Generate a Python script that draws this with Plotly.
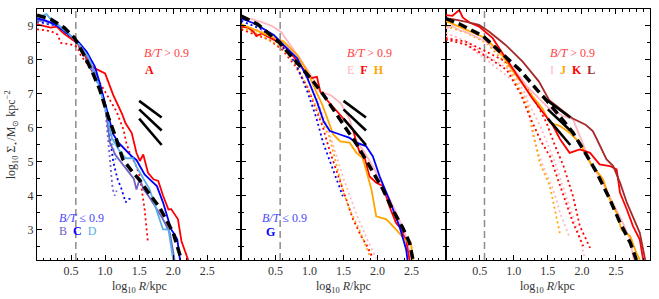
import plotly.graph_objects as go
from plotly.subplots import make_subplots

# ---------------- data ----------------
# reference slope segments (same in all panels)
slope_x = [1.5, 1.83]
slope_y1 = [6.79, 6.30]
slope_y2 = [6.54, 5.92]
slope_y3 = [6.27, 5.49]
rcut = 0.57  # vertical dashed line, log10 R

# Panel 1
p1_fit_x = [0, 0.2, 0.4, 0.55, 0.67, 0.8, 0.92, 1.05, 1.15, 1.26, 1.4, 1.51, 1.65, 1.8, 2.0, 2.12]
p1_fit_y = [9.32, 9.2, 8.95, 8.65, 8.22, 7.7, 7.13, 6.3, 5.75, 5.07, 4.7, 4.45, 4.05, 3.65, 2.9, 2.1]
p1_A_x = [0, 0.1, 0.2, 0.29, 0.35, 0.39, 0.46, 0.59, 0.7, 0.78, 0.85, 0.9, 1.0, 1.12, 1.25, 1.3, 1.39, 1.46,
          1.51, 1.56, 1.63, 1.71, 1.78, 1.85, 1.93, 1.97, 2.07, 2.12, 2.22]
p1_A_y = [9.05, 9.0, 8.95, 8.98, 8.85, 8.78, 8.68, 8.5, 8.15, 7.85, 7.75, 7.7, 7.6, 6.96, 6.4, 6.13, 5.85, 5.26,
          5.02, 5.21, 4.67, 4.48, 4.43, 4.0, 3.59, 3.6, 3.3, 2.66, 2.1]
p1_Ad_x = [0, 0.1, 0.2, 0.3, 0.35, 0.39, 0.5, 0.59, 0.64, 0.75, 0.9, 1.03, 1.17, 1.22, 1.27, 1.31, 1.36, 1.45, 1.51, 1.58, 1.63]
p1_Ad_y = [8.9, 8.88, 8.85, 8.75, 8.5, 8.49, 8.45, 8.39, 8.14, 7.85, 7.4, 6.96, 6.47, 6.2, 5.95, 5.56, 5.26, 4.9, 4.57, 3.59, 2.6]
p1_B_x = [0, 0.1, 0.2, 0.3, 0.45, 0.6, 0.75, 0.9, 1.0, 1.07, 1.15, 1.25, 1.35, 1.42, 1.46, 1.51, 1.56, 1.65, 1.76, 1.85, 1.95, 2.02]
p1_B_y = [9.15, 9.15, 9.1, 9.05, 8.8, 8.5, 8.05, 7.4, 6.7, 5.56, 5.2, 4.95, 4.7, 4.5, 4.18, 4.5, 4.2, 3.95, 3.6, 3.3, 2.9, 2.1]
p1_C_x = [0, 0.1, 0.2, 0.3, 0.49, 0.6, 0.73, 0.85, 0.93, 1.05, 1.12, 1.2, 1.31, 1.39, 1.46, 1.52, 1.58, 1.67, 1.76,
          1.85, 1.93, 1.97, 2.02, 2.06, 2.1]
p1_C_y = [9.22, 9.18, 9.1, 9.0, 8.7, 8.55, 8.24, 7.8, 7.26, 6.3, 5.8, 5.55, 5.31, 5.16, 5.05, 4.85, 4.62, 4.45, 4.28,
          3.8, 3.3, 3.0, 2.85, 2.7, 2.1]
p1_D_x = [0, 0.07, 0.14, 0.2, 0.3, 0.45, 0.6, 0.75, 0.9, 1.0, 1.1, 1.2, 1.3, 1.41, 1.46, 1.55, 1.65, 1.76, 1.85, 1.93, 2.0]
p1_D_y = [9.25, 9.3, 9.35, 9.2, 9.05, 8.8, 8.5, 8.1, 7.3, 6.6, 5.7, 5.35, 5.1, 5.1, 4.85, 4.55, 4.2, 3.54, 3.0, 3.0, 2.1]
p1_Bd_x = [0, 0.3, 0.6, 0.9, 1.0, 1.05, 1.08, 1.11, 1.14, 1.17]
p1_Bd_y = [9.1, 9.0, 8.45, 7.3, 6.6, 5.4, 4.7, 4.2, 4.0, 4.15]
p1_Cd_x = [0, 0.3, 0.6, 0.9, 1.0, 1.07, 1.12, 1.18, 1.24, 1.3, 1.34, 1.39]
p1_Cd_y = [9.15, 9.0, 8.5, 7.3, 6.7, 5.7, 5.0, 4.5, 4.2, 3.8, 3.9, 3.9]
p1_Dd_x = [0, 0.3, 0.6, 0.9, 1.0, 1.08, 1.12, 1.16]
p1_Dd_y = [9.2, 9.0, 8.5, 7.3, 6.6, 5.8, 5.3, 5.0]

# Panel 2
p2_fit_x = [0, 0.24, 0.56, 0.73, 0.88, 1.03, 1.22, 1.42, 1.54, 1.71, 1.91, 2.08, 2.22, 2.37, 2.47, 2.52]
p2_fit_y = [9.29, 9.05, 8.51, 8.11, 7.77, 7.43, 6.93, 6.34, 5.95, 5.46, 4.77, 4.18, 3.59, 3.05, 2.61, 2.1]
p2_E_x = [0, 0.15, 0.28, 0.45, 0.58, 0.72, 0.89, 1.02, 1.16, 1.31, 1.46, 1.59, 1.68, 1.8, 1.95, 2.1, 2.25, 2.4, 2.5]
p2_E_y = [9.25, 9.2, 9.13, 9.0, 8.83, 8.44, 7.95, 7.55, 7.06, 6.96, 6.72, 6.25, 5.66, 5.3, 4.8, 4.2, 3.6, 2.9, 2.1]
p2_F_x = [0, 0.1, 0.18, 0.22, 0.3, 0.48, 0.67, 0.84, 1.02, 1.11, 1.16, 1.26, 1.41, 1.49, 1.56, 1.64, 1.69, 1.74,
          1.8, 1.88, 1.98, 2.08, 2.17, 2.27, 2.33, 2.42, 2.47]
p2_F_y = [8.98, 8.95, 8.83, 8.7, 8.78, 8.59, 8.34, 7.9, 7.46, 7.5, 7.06, 6.81, 6.47, 6.3, 6.15, 5.95, 5.56, 5.26,
          5.2, 4.57, 4.38, 4.28, 3.7, 3.2, 3.05, 2.66, 2.1]
p2_G_x = [0, 0.18, 0.3, 0.48, 0.62, 0.82, 0.97, 1.11, 1.21, 1.3, 1.45, 1.59, 1.69, 1.83, 1.93, 2.03, 2.17, 2.32, 2.42, 2.44]
p2_G_y = [9.22, 9.08, 8.95, 8.73, 8.44, 8.05, 7.46, 6.77, 6.18, 5.9, 5.8, 5.7, 5.56, 5.46, 5.16, 4.57, 3.89, 3.1, 2.41, 2.1]
p2_H_x = [0, 0.28, 0.62, 0.82, 0.97, 1.09, 1.19, 1.28, 1.35, 1.45, 1.59, 1.69, 1.78, 1.83, 1.91, 1.98, 2.13, 2.27,
          2.42, 2.49, 2.52]
p2_H_y = [9.05, 8.83, 8.54, 8.14, 7.65, 7.11, 6.67, 6.18, 5.8, 5.6, 5.56, 5.26, 5.11, 4.77, 4.18, 3.39, 3.3, 3.0,
          2.66, 2.61, 2.1]
p2_Gd_x = [0, 0.3, 0.6, 0.8, 0.97, 1.04, 1.1, 1.2, 1.34, 1.49]
p2_Gd_y = [9.15, 8.9, 8.4, 7.9, 7.06, 6.67, 6.3, 5.56, 4.77, 3.98]
p2_Fd_x = [0, 0.2, 0.4, 0.6, 0.8, 0.97, 1.1, 1.2, 1.3, 1.4, 1.54, 1.64, 1.76, 1.85, 1.93]
p2_Fd_y = [8.9, 8.75, 8.6, 8.3, 7.8, 7.2, 6.5, 6.0, 5.3, 4.7, 3.89, 3.3, 2.8, 2.5, 2.15]
p2_Hd_x = [0, 0.2, 0.4, 0.6, 0.8, 0.97, 1.1, 1.2, 1.29, 1.42, 1.5, 1.59, 1.73, 1.88]
p2_Hd_y = [8.95, 8.8, 8.6, 8.35, 7.85, 7.2, 6.6, 6.1, 5.75, 4.77, 4.1, 3.59, 3.0, 2.25]
p2_Ed_x = [0, 0.3, 0.6, 0.9, 1.1, 1.3, 1.5, 1.7, 1.85, 1.98]
p2_Ed_y = [9.0, 8.85, 8.5, 7.7, 6.9, 5.8, 4.5, 3.4, 2.7, 2.15]

# Panel 3
p3_fit_x = [0, 0.21, 0.55, 0.79, 1.09, 1.38, 1.52, 1.69, 1.87, 2.02, 2.22, 2.41, 2.56, 2.71, 2.8]
p3_fit_y = [9.22, 9.05, 8.7, 8.25, 7.7, 7.03, 6.72, 6.3, 5.85, 5.36, 4.67, 3.89, 3.2, 2.61, 2.1]
p3_I_x = [0, 0.1, 0.2, 0.29, 0.59, 0.9, 1.2, 1.5, 1.73, 1.87, 1.97, 2.12, 2.3, 2.45, 2.6, 2.71, 2.76]
p3_I_y = [8.93, 9.0, 8.88, 8.83, 8.54, 8.0, 7.2, 6.6, 6.34, 6.25, 5.75, 5.0, 4.4, 3.8, 3.2, 2.7, 2.1]
p3_J_x = [0, 0.29, 0.59, 0.83, 1.03, 1.22, 1.42, 1.53, 1.68, 1.82, 1.97, 2.12, 2.31, 2.41, 2.51, 2.58, 2.71, 2.8, 2.85]
p3_J_y = [9.15, 8.9, 8.64, 8.14, 7.55, 7.06, 6.57, 6.15, 6.05, 5.85, 5.56, 4.97, 4.48, 3.89, 3.49, 3.0, 2.8, 2.31, 2.1]
p3_K_x = [0, 0.1, 0.2, 0.25, 0.35, 0.49, 0.69, 0.88, 1.08, 1.27, 1.42, 1.57, 1.68, 1.82, 1.97, 2.12, 2.26, 2.41,
          2.51, 2.56, 2.66, 2.75, 2.85, 2.9]
p3_K_y = [9.32, 9.3, 9.47, 9.25, 9.1, 8.98, 8.64, 8.05, 7.46, 6.87, 6.47, 6.08, 5.66, 5.26, 5.36, 5.26, 4.92, 4.87,
          4.77, 4.08, 3.59, 3.1, 2.7, 2.1]
p3_L_x = [0, 0.1, 0.29, 0.49, 0.64, 0.88, 1.13, 1.37, 1.52, 1.67, 1.86, 2.06, 2.16, 2.22, 2.36, 2.46, 2.56, 2.66,
          2.75, 2.85, 2.93]
p3_L_y = [9.22, 9.2, 9.13, 9.03, 8.83, 8.44, 7.95, 7.36, 6.81, 6.57, 6.28, 6.08, 5.9, 5.66, 5.07, 4.87, 4.38, 3.79,
          3.39, 2.9, 2.1]
p3_Kd1_x = [0, 0.29, 0.59, 0.88, 1.13, 1.32, 1.48, 1.6, 1.73, 1.87, 1.97, 2.12]
p3_Kd1_y = [8.64, 8.54, 8.25, 7.95, 7.36, 6.77, 6.15, 5.5, 4.87, 3.98, 3.1, 2.46]
p3_Kd2_x = [0, 0.3, 0.6, 0.9, 1.1, 1.24, 1.4, 1.53, 1.73, 1.87, 2.02]
p3_Kd2_y = [8.6, 8.45, 8.1, 7.7, 7.0, 6.3, 5.6, 5.16, 4.0, 3.2, 2.51]
p3_Jd_x = [0, 0.3, 0.6, 0.88, 1.08, 1.22, 1.27, 1.38, 1.53, 1.68]
p3_Jd_y = [9.0, 8.8, 8.5, 7.9, 7.16, 6.57, 6.0, 4.97, 4.28, 2.85]
p3_Id1_x = [0, 0.3, 0.59, 0.98, 1.18, 1.28, 1.43, 1.58, 1.68, 1.82]
p3_Id1_y = [8.8, 8.55, 8.15, 7.65, 6.96, 5.75, 4.87, 4.18, 3.49, 2.76]
p3_Id2_x = [0, 0.3, 0.6, 0.98, 1.2, 1.4, 1.6, 1.8, 1.95, 2.04]
p3_Id2_y = [8.7, 8.45, 8.0, 7.4, 6.8, 6.0, 5.0, 3.8, 2.9, 2.17]

# tick labels
x_tickvals = [0.5, 1.0, 1.5, 2.0, 2.5]
x_ticktext = ["0.5", "1.0", "1.5", "2.0", "2.5"]
y_tickvals = [3, 4, 5, 6, 7, 8, 9]

# ---------------- styling ----------------
RED = "#ff0000"
BLUE = "#0000ff"
PURPLE = "#7060c8"
LBLUE = "#5aaee8"
PINK = "#ffb6c1"
ORANGE = "#ffa500"
BROWN = "#a52a2a"
TXT_RED = "#ff4040"
TXT_BLUE = "#4848ff"
FONT = "Liberation Serif"
DOT = "2px,3px"

fig = make_subplots(rows=1, cols=3, shared_yaxes=True, horizontal_spacing=0)


def line(col, x, y, color, dash="solid", width=1.8):
    fig.add_trace(go.Scatter(x=x, y=y, mode="lines", line=dict(color=color, width=width, dash=dash),
                             hoverinfo="skip"), row=1, col=col)


panels = {
    1: dict(dotted=[(p1_Ad_x, p1_Ad_y, RED), (p1_Bd_x, p1_Bd_y, PURPLE), (p1_Cd_x, p1_Cd_y, BLUE),
                    (p1_Dd_x, p1_Dd_y, LBLUE)],
            solid=[(p1_A_x, p1_A_y, RED), (p1_B_x, p1_B_y, PURPLE), (p1_C_x, p1_C_y, BLUE), (p1_D_x, p1_D_y, LBLUE)],
            fit=(p1_fit_x, p1_fit_y)),
    2: dict(dotted=[(p2_Ed_x, p2_Ed_y, PINK), (p2_Fd_x, p2_Fd_y, RED), (p2_Hd_x, p2_Hd_y, ORANGE),
                    (p2_Gd_x, p2_Gd_y, BLUE)],
            solid=[(p2_E_x, p2_E_y, PINK), (p2_F_x, p2_F_y, RED), (p2_H_x, p2_H_y, ORANGE), (p2_G_x, p2_G_y, BLUE)],
            fit=(p2_fit_x, p2_fit_y)),
    3: dict(dotted=[(p3_Id1_x, p3_Id1_y, PINK), (p3_Id2_x, p3_Id2_y, PINK), (p3_Jd_x, p3_Jd_y, ORANGE),
                    (p3_Kd1_x, p3_Kd1_y, RED), (p3_Kd2_x, p3_Kd2_y, RED)],
            solid=[(p3_I_x, p3_I_y, PINK), (p3_J_x, p3_J_y, ORANGE), (p3_K_x, p3_K_y, RED), (p3_L_x, p3_L_y, BROWN)],
            fit=(p3_fit_x, p3_fit_y)),
}

for c, p in panels.items():
    line(c, [rcut, rcut], [2.1, 9.5], "#8c8c8c", dash="7px,4px", width=1.5)
    for x, y, col in p["dotted"]:
        line(c, x, y, col, dash=DOT, width=1.8)
    for x, y, col in p["solid"]:
        line(c, x, y, col, width=1.8)
    for sy in (slope_y1, slope_y2, slope_y3):
        line(c, slope_x, sy, "black", width=2.6)
    line(c, p["fit"][0], p["fit"][1], "black", dash="9px,5px", width=3.5)

axis_common = dict(showline=True, linecolor="black", linewidth=1, mirror="ticks", ticks="inside",
                   tickcolor="black", tickwidth=1, showgrid=False, zeroline=False,
                   tickfont=dict(family=FONT, size=12, color="#333"))
for i in (1, 2, 3):
    fig.update_xaxes(range=[0, 3], tickmode="array", tickvals=x_tickvals, ticktext=x_ticktext, ticklen=5,
                     minor=dict(dtick=0.1, tick0=0, ticks="inside", ticklen=2.5, tickcolor="black"),
                     **axis_common, row=1, col=i)
    fig.update_yaxes(range=[2.1, 9.5], tickmode="array", tickvals=y_tickvals, ticklen=5,
                     minor=dict(dtick=0.5, tick0=0, ticks="inside", ticklen=3, tickcolor="black"),
                     **axis_common, row=1, col=i)


def ann(xref, x, y, text, color, size=12):
    fig.add_annotation(xref=xref, yref="y", x=x, y=y, text=text, showarrow=False, xanchor="left",
                       yanchor="middle", font=dict(family=FONT, size=size, color=color))


sp = "&nbsp;&nbsp;"
ann("x", 1.54, 8.19, "<i>B/T</i> &gt; 0.9", TXT_RED)
ann("x", 1.56, 7.71, "<b>A</b>", RED)
ann("x", 0.29, 3.35, "<i>B/T</i> ≤ 0.9", TXT_BLUE)
ann("x", 0.29, 2.95, f"<span style='color:{PURPLE}'>B</span>{sp}<span style='color:{BLUE}'><b>C</b></span>{sp}"
                     f"<span style='color:{LBLUE}'>D</span>", BLUE)
ann("x2", 1.52, 8.19, "<i>B/T</i> &gt; 0.9", TXT_RED)
ann("x2", 1.52, 7.71, f"<span style='color:{PINK}'>E</span>{sp}<span style='color:{RED}'><b>F</b></span>{sp}"
                      f"<span style='color:{ORANGE}'><b>H</b></span>", RED)
ann("x2", 0.28, 3.35, "<i>B/T</i> ≤ 0.9", TXT_BLUE)
ann("x2", 0.33, 2.93, "<b>G</b>", BLUE)
ann("x3", 1.50, 8.19, "<i>B/T</i> &gt; 0.9", TXT_RED)
ann("x3", 1.50, 7.71, f"<span style='color:{PINK}'>I</span>{sp}<span style='color:{ORANGE}'><b>J</b></span>{sp}"
                      f"<span style='color:{RED}'><b>K</b></span>{sp}<span style='color:{BROWN}'><b>L</b></span>", RED)

# axis titles
xtitle = "log<sub>10</sub> <i>R</i>/kpc"
for i, dom in enumerate(("x domain", "x2 domain", "x3 domain")):
    fig.add_annotation(xref=dom, yref="paper", x=0.5, y=-0.106, text=xtitle, showarrow=False,
                       xanchor="center", yanchor="middle", font=dict(family=FONT, size=12, color="#333"))
fig.add_annotation(xref="paper", yref="paper", x=-0.041, y=0.5, textangle=-90, showarrow=False,
                   text="log<sub>10</sub> Σ<sub>⋆</sub>/M<sub>⊙</sub> kpc<sup>−2</sup>",
                   xanchor="center", yanchor="middle", font=dict(family=FONT, size=12, color="#333"))

fig.update_layout(width=659, height=299, margin=dict(l=37, r=9, t=9, b=39), showlegend=False,
                  plot_bgcolor="white", paper_bgcolor="white")
fig.write_html("out.html", config={"displayModeBar": False},
               post_script="document.body.style.margin='0';document.body.style.overflow='hidden';")
